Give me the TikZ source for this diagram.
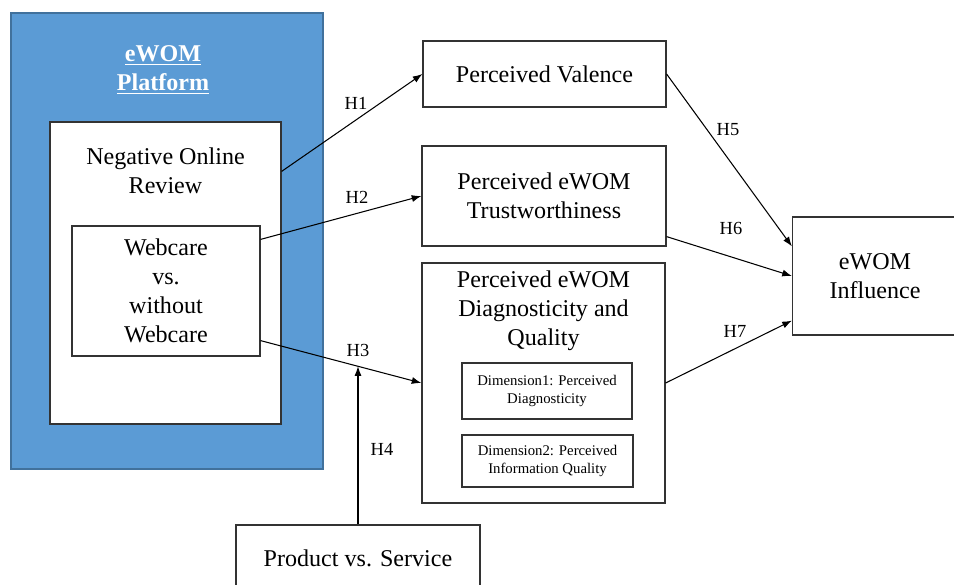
\documentclass[tikz,border=0pt]{standalone}
\usepackage{fontspec}
\setmainfont{Liberation Serif}
\usetikzlibrary{arrows.meta,calc}
\definecolor{platblue}{HTML}{5B9BD5}
\definecolor{platedge}{HTML}{41719C}
\tikzset{
  box/.style={draw=black!80,line width=0.7pt,fill=white,inner sep=0pt,
    align=center,font=\fontsize{13.7}{16.4}\selectfont},
  small/.style={font=\fontsize{8.4}{10.2}\selectfont},
  hlab/.style={font=\fontsize{10.5}{12}\selectfont,inner sep=1pt},
  arr/.style={-{Latex[length=5.5pt,width=4pt]},line width=0.6pt}
}

\begin{document}
\begin{tikzpicture}[x=0.02cm,y=-0.02cm]
  \useasboundingbox (0,0) rectangle (954,585);

  % platform block
  \node[draw=platedge,fill=platblue,line width=0.8pt,minimum width=6.24cm,
    minimum height=9.12cm] (platform) at (167,241) {};
  \node[align=center,text=white,font=\fontsize{13.7}{16.4}\selectfont\bfseries]
    (title) at (163,70) {\underline{eWOM}\\\underline{Platform}};

  \node[box,minimum width=4.62cm,minimum height=6.04cm] (nor) at (165.5,273) {};
  \node[align=center,font=\fontsize{13.7}{16.4}\selectfont] (nortext) at (165.5,171)
    {Negative Online\\Review};
  \node[box,minimum width=3.76cm,minimum height=2.6cm] (webcare) at (166,291)
    {Webcare\\vs.\\without\\Webcare};

  % mediators
  \node[box,minimum width=4.86cm,minimum height=1.32cm] (valence) at (544.5,74)
    {Perceived Valence};
  \node[box,minimum width=4.88cm,minimum height=2cm] (trust) at (544,196)
    {Perceived eWOM\\Trustworthiness};
  \node[box,minimum width=4.86cm,minimum height=4.8cm] (diag) at (543.5,383) {};
  \node[align=center,font=\fontsize{13.7}{16.4}\selectfont] (diagtext) at (543.5,311)
    {Perceived eWOM\\Diagnosticity and\\Quality};
  \node[box,small,minimum width=3.4cm,minimum height=1.12cm] (dimone) at (547,391)
    {Dimension1: Perceived\\Diagnosticity};
  \node[box,small,minimum width=3.42cm,minimum height=1.04cm] (dimtwo) at (547.5,461)
    {Dimension2: Perceived\\Information Quality};

  % outcome and moderator
  \node[box,minimum width=3.3cm,minimum height=2.36cm] (influence) at (875,276)
    {eWOM\\Influence};
  \node[box,minimum width=4.88cm,minimum height=1.32cm] (product) at (358,558)
    {Product vs. Service};

  % hypotheses
  \draw[arr] ([yshift=-1cm]nor.north east) -- (valence.west);
  \draw[arr] ([yshift=-0.28cm]webcare.north east) -- (trust.west);
  \draw[arr] ([yshift=0.32cm]webcare.south east) -- coordinate[pos=0.605] (h3mid) (diag.west);
  \draw[arr] (product.north) -- (product.north |- h3mid);
  \draw[arr] (valence.east) -- ([yshift=-0.6cm]influence.north west);
  \draw[arr] ([yshift=0.2cm]trust.south east) -- (influence.west);
  \draw[arr] (diag.east) -- ([yshift=0.3cm]influence.south west);

  \node[hlab] (h1) at (356,103) {H1};
  \node[hlab] (h2) at (357,197) {H2};
  \node[hlab] (h3) at (358,350) {H3};
  \node[hlab] (h4) at (382,449) {H4};
  \node[hlab] (h5) at (728,130) {H5};
  \node[hlab] (h6) at (731,228) {H6};
  \node[hlab] (h7) at (735,331) {H7};
\end{tikzpicture}
\end{document}
